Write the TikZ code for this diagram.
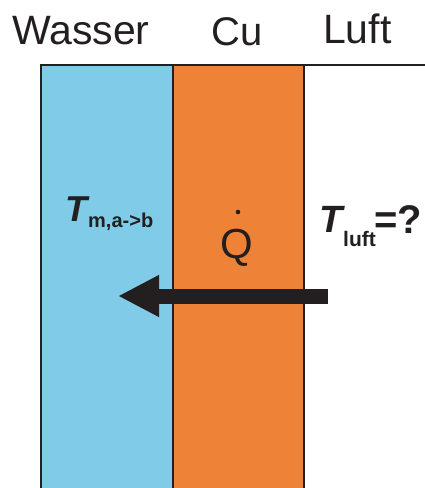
\documentclass[tikz,border=0pt]{standalone}
\usepackage{fontspec}
\setmainfont{Liberation Sans}
\usetikzlibrary{arrows.meta}
\definecolor{wblue}{RGB}{128,203,232}
\definecolor{cuorange}{RGB}{238,130,54}
\definecolor{ink}{RGB}{35,31,32}
\tikzset{
  lbl/.style={inner sep=0pt, anchor=base west, text=ink},
  border/.style={draw=ink, line width=1.3pt},
}
\begin{document}
\begin{tikzpicture}[x=1pt,y=-1pt]
\useasboundingbox (0,0) rectangle (425,488);
% layers
\fill[wblue] (41,65) rectangle (173,489);
\fill[cuorange] (173,65) rectangle (304,489);
\draw[border] (41,489) -- (41,65) -- (425,65);
\draw[border] (173,65) -- (173,489);
\draw[border] (304,65) -- (304,489);
% headings
\node[lbl, font=\fontsize{41}{41}\selectfont] (wasser) at (12,44) {Wasser};
\node[lbl, font=\fontsize{40}{40}\selectfont] (cu) at (211,45) {Cu};
\node[lbl, font=\fontsize{41}{41}\selectfont] (luft) at (323,43) {Luft};
% T_m,a->b
\node[lbl, font=\fontsize{36}{36}\selectfont\bfseries\itshape] (tm) at (65,221) {T};
\node[lbl, font=\fontsize{20}{20}\selectfont\bfseries] (tmsub) at (88,227) {m,a->b};
% Q dot
\node[lbl, font=\fontsize{42}{42}\selectfont] (q) at (220,258) {Q};
\fill[ink] (238,212) circle (2.3);
% T_luft=?
\node[lbl, font=\fontsize{38}{38}\selectfont\bfseries\itshape] (tl) at (319,232) {T};
\node[lbl, font=\fontsize{21}{21}\selectfont\bfseries] (tlsub) at (343,246) {luft};
\node[lbl, font=\fontsize{40}{40}\selectfont\bfseries] (eq) at (374,233) {=?};
% heat flow arrow
\coordinate (astart) at (328,296);
\coordinate (atip) at (118,296);
\draw[ink, line width=15pt, -{Triangle[length=41pt,width=39pt]}] (astart) -- (atip);
\end{tikzpicture}
\end{document}
